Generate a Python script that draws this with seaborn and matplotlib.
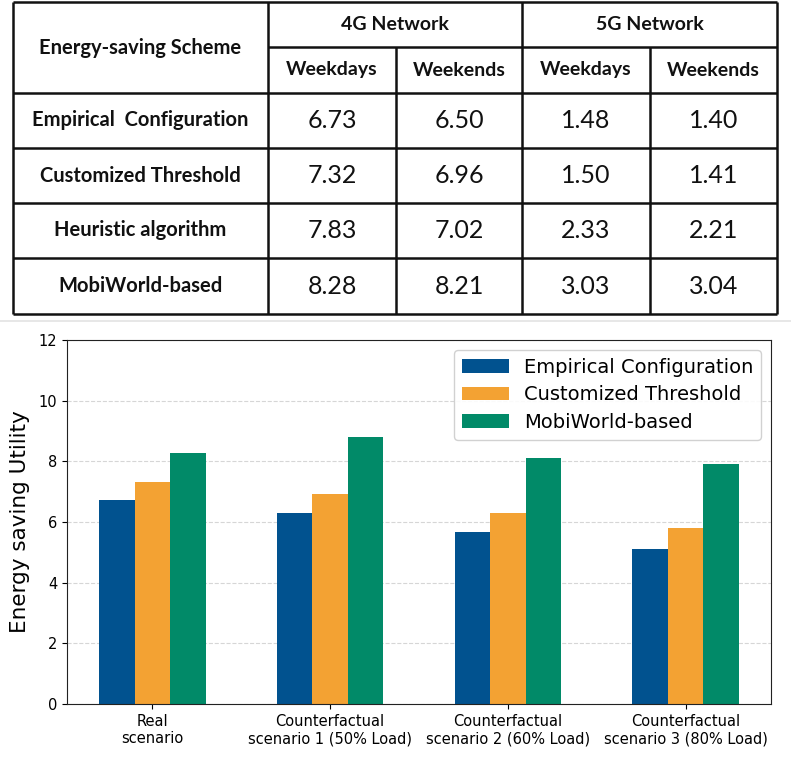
"""Energy-saving utility: summary table plus grouped bar chart."""
import matplotlib
matplotlib.use("Agg")
import matplotlib.pyplot as plt
import numpy as np
import pandas as pd
import seaborn as sns

# --- table data ---
schemes = ["Empirical  Configuration", "Customized Threshold",
           "Heuristic algorithm", "MobiWorld-based"]
networks = ["4G Network", "5G Network"]
periods = ["Weekdays", "Weekends"]
g4_weekdays = [6.73, 7.32, 7.83, 8.28]
g4_weekends = [6.50, 6.96, 7.02, 8.21]
g5_weekdays = [1.48, 1.50, 2.33, 3.03]
g5_weekends = [1.40, 1.41, 2.21, 3.04]

# --- bar chart data ---
scenarios = ["Real\nscenario",
             "Counterfactual\nscenario 1 (50% Load)",
             "Counterfactual\nscenario 2 (60% Load)",
             "Counterfactual\nscenario 3 (80% Load)"]
methods = ["Empirical Configuration", "Customized Threshold", "MobiWorld-based"]
empirical = [6.73, 6.30, 5.67, 5.11]
customized = [7.32, 6.91, 6.30, 5.80]
mobiworld = [8.28, 8.81, 8.10, 7.91]
palette = ["#01528f", "#f3a233", "#018a68"]

W, H = 791, 760
fig = plt.figure(figsize=(W / 100, H / 100), dpi=100)

# ---------------- table (pixel coordinates overlay) ----------------
tab = fig.add_axes([0, 0, 1, 1], zorder=0)
tab.set_xlim(0, W)
tab.set_ylim(H, 0)
tab.axis("off")

col_x = [13, 268, 396, 522, 650, 777]
head_top, head_mid, head_bot = 2, 47, 93
row_y = [93, 148, 203, 258, 314]
lc, lw = "#111111", 1.8

tab.hlines([head_top, head_bot] + row_y[1:], col_x[0], col_x[-1], color=lc, lw=lw)
tab.hlines(head_mid, col_x[1], col_x[-1], color=lc, lw=lw)
tab.vlines([col_x[0], col_x[1], col_x[3], col_x[-1]], head_top, row_y[-1], color=lc, lw=lw)
tab.vlines([col_x[2], col_x[4]], head_mid, row_y[-1], color=lc, lw=lw)
tab.hlines(321, 0, W, color="#e3e3e3", lw=1.2)

hfont = dict(family="Lato", weight="bold", fontsize=14, ha="center", va="center",
             color="#111111")
rfont = dict(hfont, fontsize=14.5)
nfont = dict(family="Lato", fontsize=18, ha="center", va="center", color="#111111")

tab.text((col_x[0] + col_x[1]) / 2, (head_top + head_bot) / 2, "Energy-saving Scheme", **rfont)
for i, net in enumerate(networks):
    tab.text((col_x[1 + 2 * i] + col_x[3 + 2 * i]) / 2, (head_top + head_mid) / 2, net, **hfont)
    for j, per in enumerate(periods):
        c = 1 + 2 * i + j
        tab.text((col_x[c] + col_x[c + 1]) / 2, (head_mid + head_bot) / 2, per, **hfont)

cols = [g4_weekdays, g4_weekends, g5_weekdays, g5_weekends]
for r, name in enumerate(schemes):
    yc = (row_y[r] + row_y[r + 1]) / 2
    tab.text((col_x[0] + col_x[1]) / 2, yc, name, **rfont)
    for c, vals in enumerate(cols):
        tab.text((col_x[c + 1] + col_x[c + 2]) / 2, yc, f"{vals[r]:.2f}", **nfont)

# ---------------- bar chart ----------------
df = pd.DataFrame({
    "scenario": np.repeat(scenarios, 3),
    "method": methods * len(scenarios),
    "value": np.ravel(np.column_stack([empirical, customized, mobiworld])),
})

ax = fig.add_axes([67 / W, 1 - 704 / H, 704 / W, 364 / H], zorder=1)
sns.barplot(data=df, x="scenario", y="value", hue="method", hue_order=methods,
            palette=palette, saturation=1, width=0.6, gap=0, errorbar=None,
            linewidth=0, ax=ax)

ax.set_xlim(-0.48, 3.48)
ax.set_ylim(0, 12)
ax.set_yticks(range(0, 13, 2))
ax.yaxis.grid(True, linestyle="--", color="#cccccc", lw=0.8, alpha=0.8)
ax.set_axisbelow(True)
ax.set_xlabel("")
ax.set_ylabel("Energy saving Utility", fontsize=15.5, labelpad=6)
ax.tick_params(axis="x", labelsize=10.5)
ax.tick_params(axis="y", labelsize=10.5)
for s in ax.spines.values():
    s.set_color("#222222")

ax.legend(loc="upper right", fontsize=14, title=None, handlelength=2.4,
          labelspacing=0.45, borderaxespad=0.5, framealpha=0.9)

fig.savefig("out.png", dpi=100)
